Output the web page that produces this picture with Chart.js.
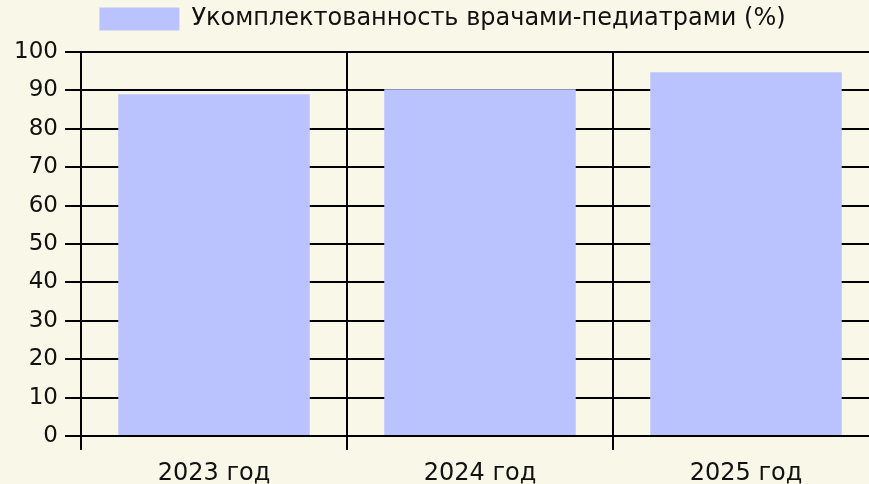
<!DOCTYPE html>
<html>
<head>
<meta charset="utf-8">
<script src="https://cdn.jsdelivr.net/npm/chart.js@4/dist/chart.umd.min.js"></script>
<style>
  html, body { margin: 0; padding: 0; background: #f9f7e8; overflow: hidden; }
  #wrap { width: 869px; height: 484px; overflow: hidden; }
</style>
</head>
<body>
<!-- the plot runs a little past the right edge of the picture, so the canvas is wider than the frame -->
<div id="wrap"><canvas id="chart" width="879" height="484"></canvas></div>
<script>
// Data =========================================
const years = ["2023 год", "2024 год", "2025 год"];
const staffing = [89.0, 90.3, 94.7];
const seriesName = "Укомплектованность врачами-педиатрами (%)";

// Styles =======================================
const barColor = "#bbc3ff";
const lineColor = "#000000";
const textColor = "#111111";

const bg = {
  id: "bg",
  beforeDraw(chart) {
    const ctx = chart.ctx;
    ctx.save();
    ctx.fillStyle = "#f9f7e8";
    ctx.fillRect(0, 0, chart.width, chart.height);
    ctx.restore();
  },
};

// nudge the legend a bit, like in the picture
const legendShift = {
  id: "legendShift",
  afterLayout(chart) {
    const lg = chart.legend;
    lg.left += 3;
    lg.right += 3;
    lg.top -= 11;
    lg.bottom -= 11;
  },
};

new Chart(document.getElementById("chart"), {
  type: "bar",
  data: {
    labels: years,
    datasets: [
      {
        label: seriesName,
        data: staffing,
        backgroundColor: barColor,
        borderWidth: 0,
        categoryPercentage: 0.72,
        barPercentage: 1.0,
      },
    ],
  },
  options: {
    responsive: false,
    maintainAspectRatio: false,
    animation: false,
    layout: { padding: 0 },
    plugins: {
      legend: {
        display: true,
        position: "top",
        labels: {
          boxWidth: 80,
          boxHeight: 23,
          padding: 18,
          color: textColor,
          font: { family: "DejaVu Sans", size: 24 },
        },
      },
      tooltip: { enabled: false },
    },
    scales: {
      x: {
        grid: {
          color: lineColor,
          lineWidth: 2,
          offset: true,
          drawTicks: true,
          tickLength: 14,
        },
        border: { color: lineColor, width: 2 },
        ticks: { color: textColor, font: { family: "DejaVu Sans", size: 24 }, padding: 9 },
        afterFit(scale) { scale.height = 48; },
      },
      y: {
        min: 0,
        max: 100,
        grid: {
          color: lineColor,
          lineWidth: 2,
          tickLength: 16,
        },
        border: { color: lineColor, width: 2 },
        ticks: { stepSize: 10, color: textColor, font: { family: "DejaVu Sans", size: 23 }, padding: 7 },
        afterFit(scale) { scale.width = 81; },
      },
    },
  },
  plugins: [bg, legendShift],
});
</script>
</body>
</html>
